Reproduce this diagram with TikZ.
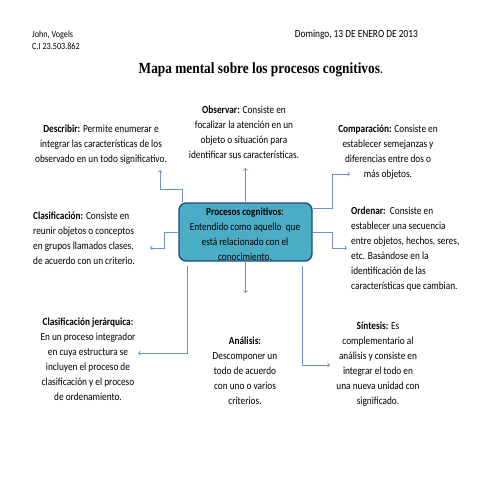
\documentclass[tikz,border=0pt]{standalone}
\usepackage{fontspec}
\setmainfont{Carlito}[FakeStretch=0.86]
\newfontfamily\titlefont{Liberation Serif}[FakeStretch=0.86]
\usetikzlibrary{arrows}
\definecolor{boxblue}{RGB}{75,172,198}
\definecolor{boxedge}{RGB}{31,73,125}
\definecolor{linkblue}{RGB}{112,146,196}

\begin{document}
\begin{tikzpicture}[x=1pt,y=-1pt]
  \tikzstyle{txt}=[font=\fontsize{10.8}{15}\selectfont, align=center, inner sep=0pt]
  \tikzstyle{ltxt}=[txt, align=left, anchor=west]
  \tikzstyle{hdr}=[font=\fontsize{10.9}{13}\selectfont, align=left, inner sep=0pt]
  \tikzstyle{proc}=[rectangle, rounded corners=7pt, fill=boxblue, draw=boxedge,
line width=1.3pt, minimum width=133pt, minimum height=58pt]
  \tikzstyle{link}=[draw=linkblue, line width=0.8pt, ->, >=to]
  \useasboundingbox (0,0) rectangle (480,480);
  \node[hdr, anchor=west, font=\fontsize{9.5}{12.5}\selectfont] (H_name) at (32,40) {John, Vogels\\C.I 23.503.862};
  \node[hdr, anchor=east] (H_date) at (418,35) {Domingo, 13 DE ENERO DE 2013};
  \node[inner sep=0pt] (H_title) at (261,70) {\titlefont\fontsize{15.5}{17}\selectfont\textbf{Mapa mental sobre los procesos cognitivos}.};

  \node[proc] (P_0) at (245.5,232) {};
  \node[txt] (P_txt) at (245,234) {\textbf{Procesos cognitivos}:\\Entendido como aquello\ \ que\\está relacionado con el\\conocimiento.};

  \node[txt] (N_obs) at (244,132.5) {\textbf{Observar:} Consiste en\\focalizar la atención en un\\objeto o situación para\\identificar sus características.};
  \node[txt] (N_desc) at (101,145) {\textbf{Describir:} Permite enumerar e\\integrar las características de los\\observado en un todo significativo.};
  \node[txt] (N_comp) at (388,152.5) {\textbf{Comparación:} Consiste en\\establecer semejanzas y\\diferencias entre dos o\\más objetos.};
  \node[ltxt] (N_clas) at (33,238) {\textbf{Clasificación:} Consiste en\\reunir objetos o conceptos\\en grupos llamados clases,\\de acuerdo con un criterio.};
  \node[ltxt] (N_ord) at (351,249) {\textbf{Ordenar:}\ \ Consiste en\\establecer una secuencia\\entre objetos, hechos, seres,\\etc. Basándose en la\\identificación de las\\características que cambian.};
  \node[txt] (N_jer) at (88,359.5) {\textbf{Clasificación jerárquica:}\\En un proceso integrador\\en cuya estructura se\\incluyen el proceso de\\clasificación y el proceso\\de ordenamiento.};
  \node[txt] (N_ana) at (245,371) {\textbf{Análisis:}\\Descomponer un\\todo de acuerdo\\con uno o varios\\criterios.};
  \node[txt] (N_sin) at (378,364) {\textbf{Síntesis:} Es\\complementario al\\análisis y consiste en\\integrar el todo en\\una nueva unidad con\\significado.};

  % free ends of the links
  \coordinate (T_desc) at (160,170);
  \coordinate (T_obs) at (245.5,168);
  \coordinate (T_comp) at (350,174);
  \coordinate (T_clas) at (150,248);
  \coordinate (T_ord) at (347,248);
  \coordinate (T_ana) at (245.5,293);
  \coordinate (T_jer) at (138,353);
  \coordinate (T_sin) at (330,365);

  \draw[link] ([xshift=4pt]P_0.north west) -- ++(0,-13) -| (T_desc);
  \draw[link] (P_0.north) -- (T_obs);
  \draw[link] ([yshift=-6pt]P_0.north east) -- ++(20,0) |- (T_comp);
  \draw[link] (P_0.west) -- ++(-14,0) |- (T_clas);
  \draw[link] (P_0.east) -- ++(20,0) |- (T_ord);
  \draw[link] (P_0.south) -- (T_ana);
  \draw[link, shorten <=4pt] ([xshift=9pt]P_0.south west) |- (T_jer);
  \draw[link, shorten <=4pt] ([xshift=-10pt]P_0.south east) |- (T_sin);
\end{tikzpicture}
\end{document}
